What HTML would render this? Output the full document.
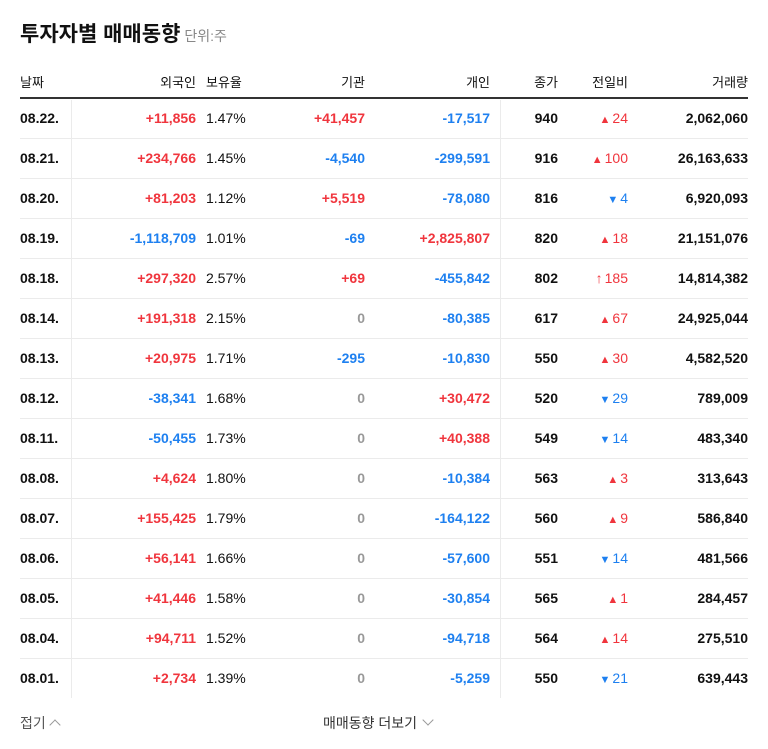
<!DOCTYPE html>
<html><head><meta charset="utf-8">
<style>
body{margin:0;width:768px;height:749px;background:#fff;font-family:"Liberation Sans","Noto Sans CJK KR",sans-serif;position:relative;overflow:hidden;color:#111}
.a{position:absolute;white-space:nowrap}
.title{left:20px;top:18px;font-size:21px;font-weight:bold;color:#111}
.unit{font-size:14px;font-weight:normal;color:#888;margin-left:4px}
.h{top:72px;font-size:13px;color:#111}
.r{text-align:right}
.cell{font-size:14px;line-height:40px}
.b{font-weight:bold}
.red{color:#f0353d}.blue{color:#1e80f0}.gray{color:#999}
.line{position:absolute;left:20px;width:728px;height:1px;background:#ebebeb}
.vl{position:absolute;width:1px;background:#ebebeb;top:100px;height:598px}
</style></head><body>
<div class="a title">투자자별 매매동향<span class="unit">단위:주</span></div>
<div class="a h" style="left:20px">날짜</div>
<div class="a h r" style="right:572px">외국인</div>
<div class="a h" style="left:206px">보유율</div>
<div class="a h r" style="right:403px">기관</div>
<div class="a h r" style="right:278px">개인</div>
<div class="a h r" style="right:210px">종가</div>
<div class="a h r" style="right:140px">전일비</div>
<div class="a h r" style="right:20px">거래량</div>
<div style="position:absolute;left:20px;top:97px;width:728px;height:2px;background:#333"></div>
<div class="vl" style="left:71px"></div>
<div class="vl" style="left:500px"></div>
<div id="rows"></div>
<div class="a" style="left:20px;top:713px;font-size:14px;color:#555">접기<span style="display:inline-block;width:7px;height:7px;border-left:1px solid #999;border-top:1px solid #999;transform:rotate(45deg);margin-left:5px;position:relative;top:1px"></span></div>
<div class="a" style="left:323px;top:713px;font-size:14px;color:#333">매매동향 더보기<span style="display:inline-block;width:7px;height:7px;border-right:1px solid #999;border-bottom:1px solid #999;transform:rotate(45deg);margin-left:7px;position:relative;top:-4px"></span></div>
<script>
var dates=["08.22.","08.21.","08.20.","08.19.","08.18.","08.14.","08.13.","08.12.","08.11.","08.08.","08.07.","08.06.","08.05.","08.04.","08.01."];
var foreign=["+11,856","+234,766","+81,203","-1,118,709","+297,320","+191,318","+20,975","-38,341","-50,455","+4,624","+155,425","+56,141","+41,446","+94,711","+2,734"];
var holding=["1.47%","1.45%","1.12%","1.01%","2.57%","2.15%","1.71%","1.68%","1.73%","1.80%","1.79%","1.66%","1.58%","1.52%","1.39%"];
var inst=["+41,457","-4,540","+5,519","-69","+69","0","-295","0","0","0","0","0","0","0","0"];
var indiv=["-17,517","-299,591","-78,080","+2,825,807","-455,842","-80,385","-10,830","+30,472","+40,388","-10,384","-164,122","-57,600","-30,854","-94,718","-5,259"];
var closes=["940","916","816","820","802","617","550","520","549","563","560","551","565","564","550"];
var changes=["▲24","▲100","▼4","▲18","↑185","▲67","▲30","▼29","▼14","▲3","▲9","▼14","▲1","▲14","▼21"];
var volumes=["2,062,060","26,163,633","6,920,093","21,151,076","14,814,382","24,925,044","4,582,520","789,009","483,340","313,643","586,840","481,566","284,457","275,510","639,443"];
var root=document.getElementById('rows');
function col(v){return v.charAt(0)=='+'?'red':(v.charAt(0)=='-'?'blue':'gray');}
function add(top,txt,pos,cls,name){
  var d=document.createElement('div');
  d.className='a cell '+cls;
  d.style.top=top+'px';
  if(pos.l!==undefined)d.style.left=pos.l+'px';else d.style.right=pos.r+'px';
  d.textContent=txt;
  
  
  root.appendChild(d);
}
for(var i=0;i<dates.length;i++){
  var t=98+i*40;
  add(t,dates[i],{l:20},'b','date-cell');
  add(t,foreign[i],{r:572},'b '+col(foreign[i]),'foreign-cell');
  add(t,holding[i],{l:206},'','holding-cell');
  add(t,inst[i],{r:403},'b '+col(inst[i]),'institution-cell');
  add(t,indiv[i],{r:278},'b '+col(indiv[i]),'individual-cell');
  add(t,closes[i],{r:210},'b','close-cell');
  var c=changes[i];
  var up=c.charAt(0)!='▼';
  var fs=c.charAt(0)=='↑'?'14px':'11px';
  var d=document.createElement('div');
  d.className='a cell '+(up?'red':'blue');
  d.style.top=t+'px';d.style.right='140px';
  d.innerHTML='<span style="font-size:'+fs+';margin-right:2px">'+c.charAt(0)+'</span>'+c.slice(1);
  
  
  root.appendChild(d);
  add(t,volumes[i],{r:20},'b','volume-cell');
  if(i<dates.length-1){
    var l=document.createElement('div');
    l.className='line';l.style.top=(t+40)+'px';
    
    
    root.appendChild(l);
  }
}
</script>
</body></html>
